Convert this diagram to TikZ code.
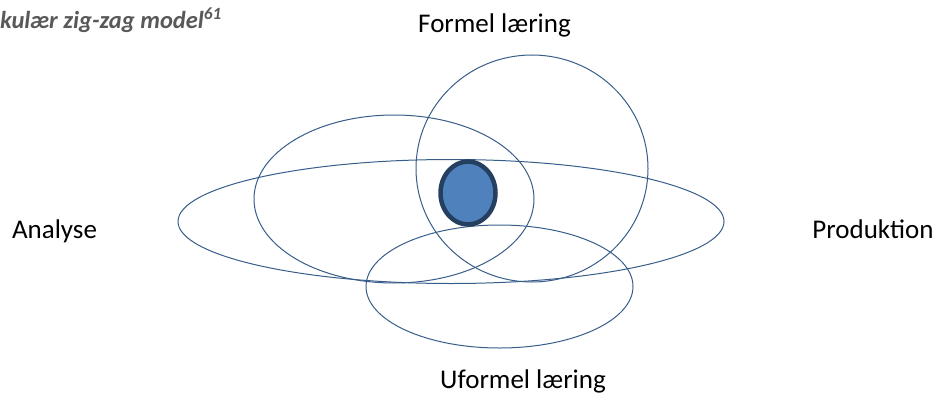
\documentclass[tikz,border=0pt]{standalone}
\usepackage{fontspec}
\setmainfont{Carlito}
\usetikzlibrary{shapes.geometric, positioning}

\definecolor{ringline}{HTML}{385D8A}
\definecolor{corefill}{HTML}{4F81BD}
\definecolor{coreline}{HTML}{243F60}
\definecolor{titlegray}{HTML}{595959}

\begin{document}
\begin{tikzpicture}[
x=1pt, y=-1pt,
ring/.style={ellipse, draw=ringline, line width=1pt, inner sep=0pt},
core/.style={ellipse, draw=coreline, fill=corefill, line width=4.5pt, inner sep=0pt, minimum width=55pt, minimum height=63pt},
label/.style={font=\fontsize{27}{32}\selectfont, text=black, inner sep=0pt, anchor=base}
]
\useasboundingbox (0,0) rectangle (936,396);
\node[ring, minimum width=546pt, minimum height=124pt] (praksis) at (451,221.5) {};
\node[ring, minimum width=232pt, minimum height=227pt] (formel) at (532,168.5) {};
\node[ring, minimum width=280pt, minimum height=168pt] (analysering) at (394,199) {};
\node[ring, minimum width=267pt, minimum height=123pt] (uformel) at (499.5,286.5) {};
\node[core] (kerne) at (468,193) {};
\node[label] (formeltxt) at (494.5,33) {Formel læring};
\node[label] (uformeltxt) at (523,388) {Uformel læring};
\node[label] (analysetxt) at (54.5,238) {Analyse};
\node[label] (produktiontxt) at (873,238) {Produktion};
\node[anchor=base west, inner sep=0pt, text=titlegray, font=\fontsize{24.5}{28}\selectfont\bfseries\itshape] (titel) at (0,29) {kulær zig-zag model\textsuperscript{61}};
\end{tikzpicture}
\end{document}
